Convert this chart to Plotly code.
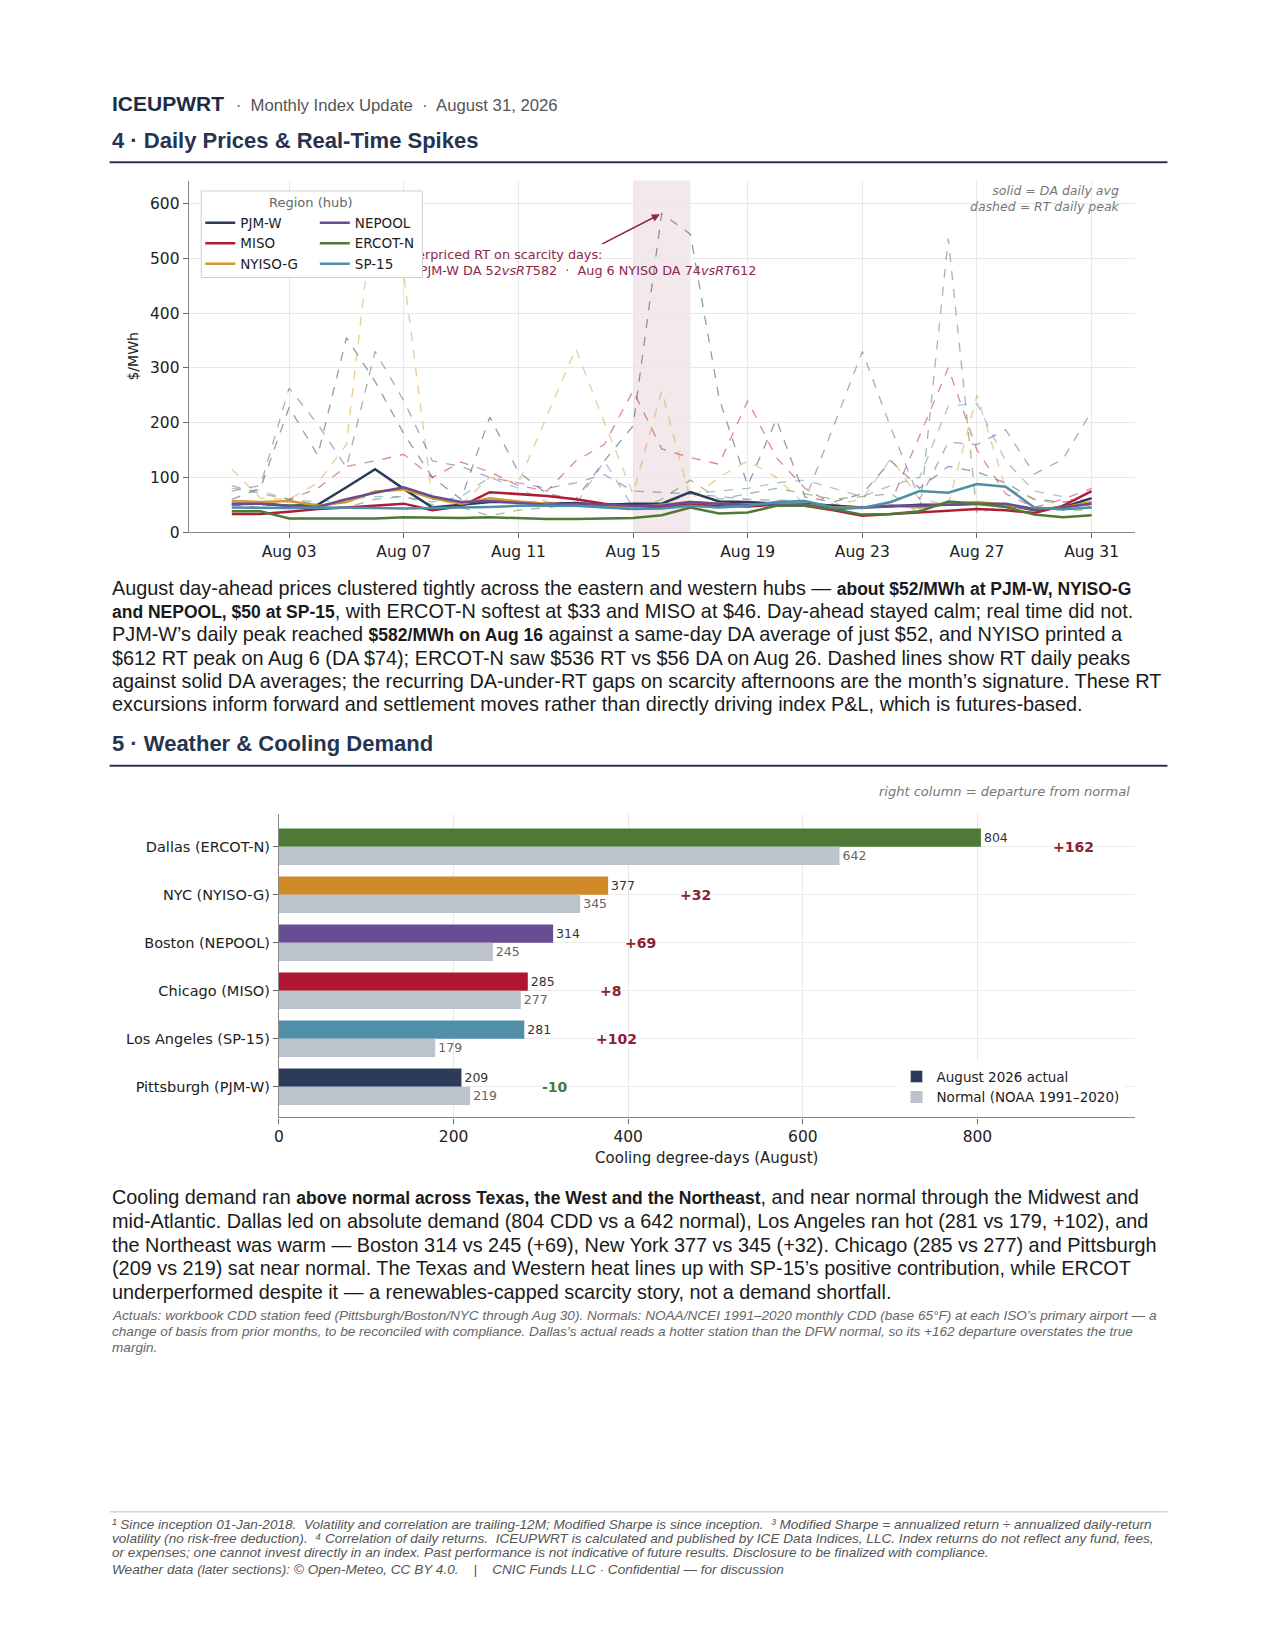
import plotly.graph_objects as go

# ---- data -------------------------------------------------------------
days = [f"2026-08-{d:02d}" for d in range(1, 32)]

regions = ["PJM-W", "MISO", "NYISO-G", "NEPOOL", "ERCOT-N", "SP-15"]
region_colors = ["#2b3a58", "#b01c35", "#d49a2c", "#6a4c93", "#4e7a36", "#4c8fa8"]

# day-ahead daily average ($/MWh)
da_pjm = [51, 52, 48, 50, 82, 115, 79, 45, 50, 55, 55, 52, 53, 50, 52, 52, 73, 56, 55, 52, 52, 48, 45, 47, 50, 50, 52, 50, 40, 45, 62]
da_miso = [33, 33, 37, 42, 45, 48, 52, 40, 47, 73, 70, 66, 60, 52, 46, 45, 52, 48, 47, 50, 48, 40, 30, 33, 37, 40, 42, 40, 35, 48, 75]
da_nyiso = [57, 55, 57, 48, 55, 74, 78, 62, 52, 62, 56, 52, 50, 48, 45, 50, 55, 52, 50, 52, 50, 45, 45, 48, 45, 52, 55, 50, 42, 45, 55]
da_nepool = [52, 52, 48, 46, 60, 72, 82, 65, 55, 57, 53, 50, 52, 50, 48, 48, 55, 52, 50, 50, 50, 42, 45, 48, 48, 50, 52, 52, 42, 45, 52]
da_ercot = [38, 38, 25, 25, 25, 25, 27, 26, 26, 27, 25, 24, 24, 25, 26, 31, 45, 34, 36, 48, 48, 42, 32, 33, 38, 56, 52, 46, 32, 27, 31]
da_sp15 = [45, 44, 44, 45, 45, 44, 43, 44, 44, 46, 48, 48, 48, 45, 42, 43, 48, 45, 48, 55, 57, 45, 44, 55, 75, 72, 88, 83, 45, 42, 45]

# real-time daily peak ($/MWh)
rt_pjm = [60, 80, 228, 140, 355, 275, 180, 100, 60, 210, 110, 70, 60, 130, 194, 582, 544, 245, 85, 206, 64, 55, 70, 130, 80, 120, 110, 90, 60, 55, 60]
rt_miso = [50, 45, 60, 80, 120, 130, 142, 100, 128, 110, 85, 75, 130, 160, 258, 152, 136, 124, 240, 136, 80, 50, 45, 55, 176, 300, 150, 70, 45, 60, 80]
rt_nyiso = [115, 62, 60, 90, 160, 612, 470, 60, 50, 100, 90, 212, 335, 200, 70, 258, 60, 100, 130, 100, 50, 50, 60, 135, 60, 50, 250, 80, 60, 50, 50]
rt_nepool = [75, 85, 263, 197, 118, 330, 240, 130, 120, 100, 90, 80, 90, 105, 75, 72, 70, 65, 60, 58, 58, 194, 330, 190, 60, 164, 160, 187, 106, 133, 221]
rt_ercot = [85, 70, 60, 50, 45, 60, 65, 50, 45, 30, 40, 45, 50, 45, 40, 60, 95, 60, 70, 80, 70, 60, 65, 70, 34, 536, 34, 50, 45, 40, 40]
rt_sp15 = [80, 75, 60, 55, 60, 65, 65, 55, 65, 100, 80, 55, 50, 130, 45, 50, 70, 75, 80, 90, 95, 80, 65, 85, 100, 230, 235, 130, 75, 65, 45]

da_all = [da_pjm, da_miso, da_nyiso, da_nepool, da_ercot, da_sp15]
rt_all = [rt_pjm, rt_miso, rt_nyiso, rt_nepool, rt_ercot, rt_sp15]

cities = ["Dallas (ERCOT-N)", "NYC (NYISO-G)", "Boston (NEPOOL)", "Chicago (MISO)",
          "Los Angeles (SP-15)", "Pittsburgh (PJM-W)"]
cdd_actual = [804, 377, 314, 285, 281, 209]
cdd_normal = [642, 345, 245, 277, 179, 219]
city_colors = ["#4e7a36", "#d08b28", "#684c94", "#b0162f", "#4f90a8", "#2d3b5a"]

W, H = 1275, 1650
BODY = "Liberation Sans, Arial, sans-serif"
CHART = "DejaVu Sans, sans-serif"
NAVY = "#27344f"
ACCENT = "#8b2a4a"
TX = 97  # left edge of page text


def px(x):
    return x / W


def py(y):
    return 1 - y / H


def b(s):
    # bold runs in the body copy are set a touch smaller
    return f"<span style='font-size:17.5px'><b>{s}</b></span>"


fig = go.Figure()

# ---- chart 1: daily prices --------------------------------------------
for name, col, rt in zip(regions, region_colors, rt_all):
    fig.add_trace(go.Scatter(x=days, y=rt, mode="lines", name=name + " RT",
                             line=dict(color=col, width=1.3, dash="dash"), opacity=0.5,
                             showlegend=False, hoverinfo="skip", xaxis="x", yaxis="y"))

fig.add_trace(go.Scatter(
    x=["2026-08-05 20:00"], y=[490], mode="text", showlegend=False, hoverinfo="skip",
    text=["DA underpriced RT on scarcity days:<br>Aug 16 PJM-W DA 52<i>vsRT</i>582  ·  Aug 6 NYISO DA 74<i>vsRT</i>612"],
    textposition="middle right", textfont=dict(family=CHART, size=12.8, color=ACCENT)))

for i, (name, col, da) in enumerate(zip(regions, region_colors, da_all)):
    fig.add_trace(go.Scatter(x=days, y=da, mode="lines", name=name,
                             line=dict(color=col, width=2.5),
                             legend="legend" if i < 3 else "legend2", xaxis="x", yaxis="y"))

# ---- chart 2: cooling degree days -------------------------------------
pos = list(range(len(cities)))
fig.add_trace(go.Bar(y=pos, x=cdd_actual, orientation="h", offset=-0.38, width=0.38,
                     marker=dict(color=city_colors, line=dict(width=0)),
                     text=[str(v) for v in cdd_actual], textposition="outside",
                     textfont=dict(family=CHART, size=12.5, color="#333"),
                     constraintext="none", cliponaxis=False, showlegend=False,
                     xaxis="x2", yaxis="y2"))
fig.add_trace(go.Bar(y=pos, x=cdd_normal, orientation="h", offset=0, width=0.38,
                     marker=dict(color="#bcc3cd", line=dict(width=0)),
                     text=[str(v) for v in cdd_normal], textposition="outside",
                     textfont=dict(family=CHART, size=12.5, color="#666"),
                     constraintext="none", cliponaxis=False,
                     name="Normal (NOAA 1991–2020)", legend="legend3", legendrank=2,
                     xaxis="x2", yaxis="y2"))
fig.add_trace(go.Bar(y=[None], x=[None], orientation="h", marker=dict(color="#2d3b5a"),
                     name="August 2026 actual", legend="legend3", legendrank=1,
                     xaxis="x2", yaxis="y2"))

axis_common = dict(showgrid=True, gridcolor="#e8e8e8", gridwidth=1, showline=True,
                   linecolor="#888", linewidth=1.2, ticks="outside", ticklen=5,
                   tickcolor="#666", zeroline=False,
                   tickfont=dict(family=CHART, size=15.5, color="#222"))

annotations = []


def txt(x, y, text, size, color="#1a1a1a", family=BODY, anchor="left"):
    annotations.append(dict(x=px(x), y=py(y), xref="paper", yref="paper", text=text,
                            showarrow=False, xanchor=anchor, yanchor="middle",
                            font=dict(family=family, size=size, color=color)))


# header
txt(TX, 96, "<b>ICEUPWRT</b>  <span style='font-size:16.7px;color:#555'>·  Monthly Index Update  ·  August 31, 2026</span>",
    21, color="#1f2b44")
txt(TX, 133, "<b>4 · Daily Prices &amp; Real-Time Spikes</b>", 22, color=NAVY)

# chart 1 notes
annotations.append(dict(x=px(1113), y=py(192), xref="paper", yref="paper", showarrow=False,
                        xanchor="right", yanchor="middle", align="right",
                        text="<i>solid = DA daily avg<br>dashed = RT daily peak</i>",
                        font=dict(family=CHART, size=12.5, color="#777")))
annotations.append(dict(x=px(299), y=py(196), xref="paper", yref="paper", showarrow=False,
                        xanchor="center", yanchor="middle", text="Region (hub)",
                        font=dict(family=CHART, size=13, color="#666")))
annotations.append(dict(x="2026-08-16", y=582, ax="2026-08-13 21:00", ay=525,
                        xref="x", yref="y", axref="x", ayref="y", text="",
                        showarrow=True, arrowhead=2, arrowsize=1, arrowwidth=1.6,
                        arrowcolor=ACCENT, standoff=2))

para1 = [
    "August day-ahead prices clustered tightly across the eastern and western hubs — " + b("about $52/MWh at PJM-W, NYISO-G"),
    b("and NEPOOL, $50 at SP-15") + ", with ERCOT-N softest at $33 and MISO at $46. Day-ahead stayed calm; real time did not.",
    "PJM-W’s daily peak reached " + b("$582/MWh on Aug 16") + " against a same-day DA average of just $52, and NYISO printed a",
    "$612 RT peak on Aug 6 (DA $74); ERCOT-N saw $536 RT vs $56 DA on Aug 26. Dashed lines show RT daily peaks",
    "against solid DA averages; the recurring DA-under-RT gaps on scarcity afternoons are the month’s signature. These RT",
    "excursions inform forward and settlement moves rather than directly driving index P&amp;L, which is futures-based.",
]
for i, line in enumerate(para1):
    txt(TX, 583 + i * 23.4, line, 19.85)

txt(TX, 740, "<b>5 · Weather &amp; Cooling Demand</b>", 22, color=NAVY)
txt(1123, 788, "<i>right column = departure from normal</i>", 13, color="#777", family=CHART, anchor="right")

# departure labels
for i, (a, n) in enumerate(zip(cdd_actual, cdd_normal)):
    d = a - n
    annotations.append(dict(x=max(a, n) + 80, y=i, xref="x2", yref="y2", showarrow=False,
                            xanchor="left", yanchor="middle", text=f"<b>{d:+d}</b>",
                            font=dict(family=CHART, size=14,
                                      color="#8b2232" if d > 0 else "#4a7a3a")))

para2 = [
    "Cooling demand ran " + b("above normal across Texas, the West and the Northeast") + ", and near normal through the Midwest and",
    "mid-Atlantic. Dallas led on absolute demand (804 CDD vs a 642 normal), Los Angeles ran hot (281 vs 179, +102), and",
    "the Northeast was warm — Boston 314 vs 245 (+69), New York 377 vs 345 (+32). Chicago (285 vs 277) and Pittsburgh",
    "(209 vs 219) sat near normal. The Texas and Western heat lines up with SP-15’s positive contribution, while ERCOT",
    "underperformed despite it — a renewables-capped scarcity story, not a demand shortfall.",
]
for i, line in enumerate(para2):
    txt(TX, 1196 + i * 23.7, line, 19.85)

notes = [
    "Actuals: workbook CDD station feed (Pittsburgh/Boston/NYC through Aug 30). Normals: NOAA/NCEI 1991–2020 monthly CDD (base 65°F) at each ISO’s primary airport — a",
    "change of basis from prior months, to be reconciled with compliance. Dallas’s actual reads a hotter station than the DFW normal, so its +162 departure overstates the true",
    "margin.",
]
for i, line in enumerate(notes):
    txt(TX, 1315 + i * 15.8, "<i>" + line + "</i>", 13.6, color="#666")

footer = [
    "¹ Since inception 01-Jan-2018.  Volatility and correlation are trailing-12M; Modified Sharpe is since inception.  ³ Modified Sharpe = annualized return ÷ annualized daily-return",
    "volatility (no risk-free deduction).  ⁴ Correlation of daily returns.  ICEUPWRT is calculated and published by ICE Data Indices, LLC. Index returns do not reflect any fund, fees,",
    "or expenses; one cannot invest directly in an index. Past performance is not indicative of future results. Disclosure to be finalized with compliance.",
]
for i, line in enumerate(footer):
    txt(TX, 1525 + i * 13.8, "<i>" + line + "</i>", 13.6, color="#555")
txt(TX, 1570, "<i>Weather data (later sections): © Open-Meteo, CC BY 4.0.    |    CNIC Funds LLC · Confidential — for discussion</i>",
    13.6, color="#555")

shapes = [
    dict(type="rect", xref="x", yref="y domain", x0="2026-08-15", x1="2026-08-17", y0=0, y1=1,
         fillcolor=ACCENT, opacity=0.1, line=dict(width=0), layer="below"),
    dict(type="rect", xref="paper", yref="paper", x0=px(189), x1=px(411), y0=py(271), y1=py(184),
         fillcolor="white", line=dict(color="#cfcfcf", width=1), layer="above"),
    dict(type="line", xref="paper", yref="paper", x0=px(97), x1=px(1159), y0=py(155), y1=py(155),
         line=dict(color="#2b3445", width=2)),
    dict(type="line", xref="paper", yref="paper", x0=px(97), x1=px(1159), y0=py(762), y1=py(762),
         line=dict(color="#2b3445", width=2)),
    dict(type="line", xref="paper", yref="paper", x0=px(97), x1=px(1159), y0=py(1512), y1=py(1512),
         line=dict(color="#cfd8de", width=1.5)),
]

legend_common = dict(xanchor="left", yanchor="top", bgcolor="rgba(0,0,0,0)", borderwidth=0,
                     font=dict(family=CHART, size=13.5, color="#222"), itemwidth=30,
                     tracegroupgap=0)

fig.update_layout(
    width=W, height=H, autosize=False,
    margin=dict(l=0, r=0, t=0, b=0),
    paper_bgcolor="white", plot_bgcolor="white",
    barmode="overlay",
    xaxis=dict(axis_common, domain=[px(176.5), px(1126)], anchor="y", type="date",
               range=["2026-07-30 12:00", "2026-09-01 12:00"],
               tickvals=days[2::4], tickformat="%b %d"),
    yaxis=dict(axis_common, domain=[py(527), py(173.5)], anchor="x", range=[0, 642],
               tickvals=[0, 100, 200, 300, 400, 500, 600],
               title=dict(text="$/MWh", font=dict(family=CHART, size=14, color="#222"), standoff=8)),
    xaxis2=dict(axis_common, domain=[px(267), px(1126)], anchor="y2", range=[0, 980],
                tickvals=[0, 200, 400, 600, 800],
                title=dict(text="Cooling degree-days (August)", font=dict(family=CHART, size=15, color="#222"),
                           standoff=7)),
    yaxis2=dict(axis_common, domain=[py(1115.5), py(810.5)], anchor="x2", range=[5.64, -0.68],
                tickvals=pos, ticktext=cities, gridcolor="#ececec",
                tickfont=dict(family=CHART, size=14.5, color="#222")),
    legend=dict(legend_common, x=px(188), y=py(200.5)),
    legend2=dict(legend_common, x=px(303), y=py(200.5)),
    legend3=dict(legend_common, x=px(887), y=py(1059), bgcolor="rgba(255,255,255,0.85)"),
    annotations=annotations,
    shapes=shapes,
)

fig.write_html("out.html")
